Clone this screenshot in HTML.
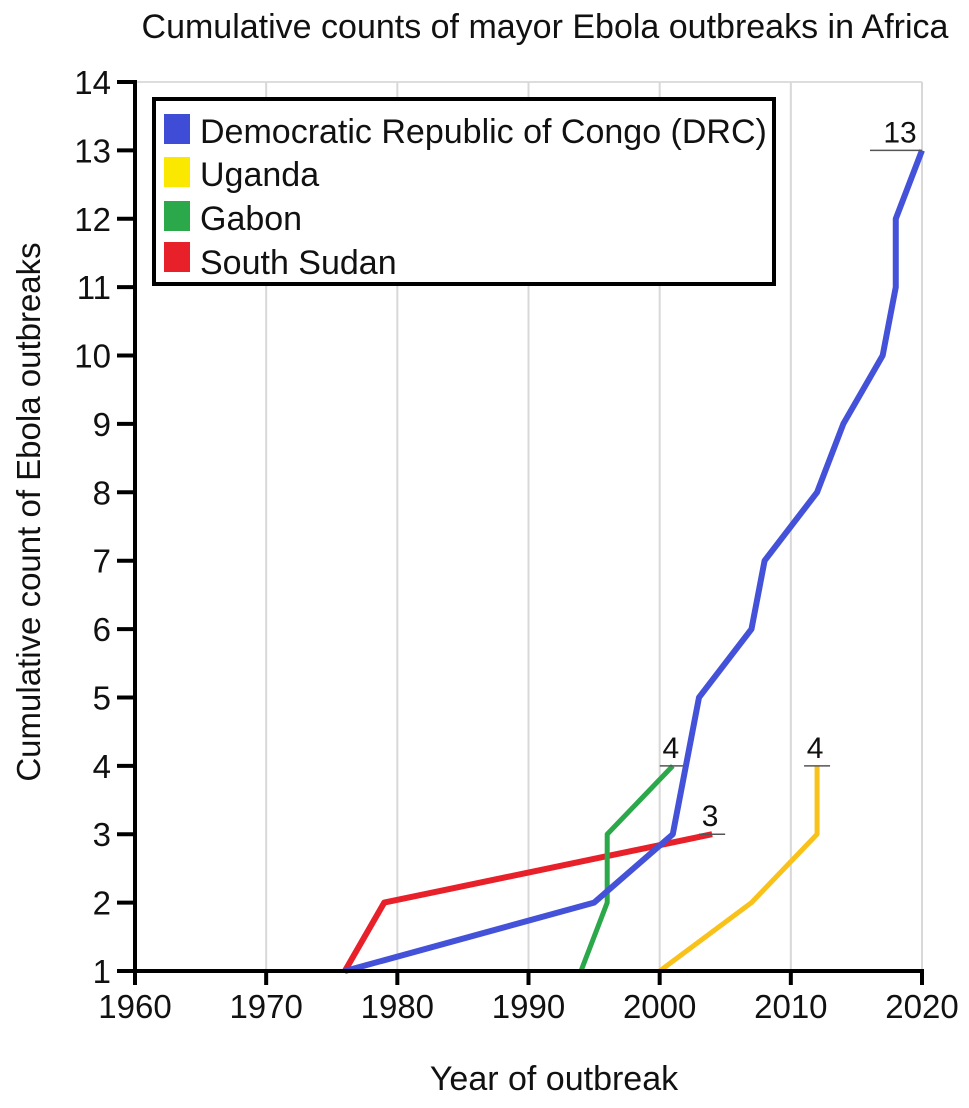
<!DOCTYPE html>
<html><head><meta charset="utf-8"><style>
body{margin:0;background:#fff;}
svg{display:block;font-family:"Liberation Sans",Arial,sans-serif;}
</style></head><body>
<svg id="chart" width="969" height="1108">
<text x="545" y="38" font-size="34" text-anchor="middle" fill="#111">Cumulative counts of mayor Ebola outbreaks in Africa</text>
<g id="grid"></g>
<g id="series"></g>
<g id="axes"></g>
<text x="554" y="1090" font-size="34" text-anchor="middle" fill="#111">Year of outbreak</text>
<text transform="translate(40,512) rotate(-90)" font-size="33" text-anchor="middle" fill="#111">Cumulative count of Ebola outbreaks</text>
<g>
<rect x="154" y="99" width="620" height="185" fill="#fff" stroke="#000" stroke-width="4"/>
<rect x="164" y="114" width="26" height="30" fill="#3f4cd6"/><text x="200" y="143" font-size="34" fill="#111">Democratic Republic of Congo (DRC)</text>
<rect x="164" y="157" width="26" height="30" fill="#fbe800"/><text x="200" y="186" font-size="34" fill="#111">Uganda</text>
<rect x="164" y="201" width="26" height="30" fill="#2aa84a"/><text x="200" y="230" font-size="34" fill="#111">Gabon</text>
<rect x="164" y="242" width="26" height="30" fill="#e8202a"/><text x="200" y="274" font-size="34" fill="#111">South Sudan</text>
</g>
</svg>
<script>
const xTicks=[1960,1970,1980,1990,2000,2010,2020];
const yTicks=[1,2,3,4,5,6,7,8,9,10,11,12,13,14];
const drcYears=[1976,1995,2001,2003,2007,2008,2012,2014,2017,2018,2018,2020];
const drcCounts=[1,2,3,5,6,7,8,9,10,11,12,13];
const ugaYears=[2000,2007,2012,2012];
const ugaCounts=[1,2,3,4];
const gabYears=[1994,1996,1996,2001];
const gabCounts=[1,2,3,4];
const ssdYears=[1976,1979,2004];
const ssdCounts=[1,2,3];
const NS="http://www.w3.org/2000/svg";
const X=v=>135+(v-1960)*(922-135)/60;
const Y=v=>971-(v-1)*(971-82)/13;
function mk(t,a,p){const e=document.createElementNS(NS,t);for(const k in a)e.setAttribute(k,a[k]);p.appendChild(e);return e;}
const grid=document.getElementById('grid'),axes=document.getElementById('axes'),ser=document.getElementById('series');
mk('line',{x1:X(1960),x2:X(2020),y1:Y(14),y2:Y(14),stroke:'#ddd','stroke-width':2},grid);
xTicks.forEach(t=>{
 if(t>1960){const g=mk('line',{x1:X(t),x2:X(t),y1:Y(14),y2:Y(1),stroke:'#d8d8d8','stroke-width':2},grid);
 
 }
 mk('line',{x1:X(t),x2:X(t),y1:Y(1),y2:Y(1)+14,stroke:'#000','stroke-width':4},axes);
 const l=mk('text',{x:X(t),y:1018,'font-size':33,'text-anchor':'middle',fill:'#111'},axes);l.textContent=t;
 
 
});
yTicks.forEach(t=>{
 mk('line',{x1:X(1960)-18,x2:X(1960),y1:Y(t),y2:Y(t),stroke:'#000','stroke-width':4},axes);
 const l=mk('text',{x:X(1960)-24,y:Y(t)+12,'font-size':33,'text-anchor':'end',fill:'#111'},axes);l.textContent=t;
 
 
});
mk('line',{x1:X(1960),x2:X(1960),y1:Y(14)-2,y2:Y(1)+2,stroke:'#000','stroke-width':4},axes);
mk('line',{x1:X(1960)-2,x2:X(2020)+2,y1:Y(1),y2:Y(1),stroke:'#000','stroke-width':4},axes);
function line(xs,ys,c,name,w){
 const p=mk('polyline',{points:xs.map((x,i)=>X(x)+','+Y(ys[i])).join(' '),fill:'none',stroke:c,'stroke-width':w,'stroke-linejoin':'round'},ser);
 
 
 const n=xs.length-1,lx=X(xs[n]),ly=Y(ys[n]);
 const big=name==='drc-line';
 mk('line',{x1:big?lx-52:lx-13,x2:big?lx:lx+13,y1:ly,y2:ly,stroke:'#555','stroke-width':1.5},ser);
 const t=mk('text',{x:big?lx-22:lx-2,y:ly-8,'font-size':30,'text-anchor':'middle',fill:'#111'},ser);t.textContent=ys[n];
 
 
}
line(ssdYears,ssdCounts,'#e8202a','south-sudan-line',6);
line(gabYears,gabCounts,'#2aa84a','gabon-line',5);
line(ugaYears,ugaCounts,'#f9c21a','uganda-line',5);
line(drcYears,drcCounts,'#4352d8','drc-line',6);
</script>
</body></html>
